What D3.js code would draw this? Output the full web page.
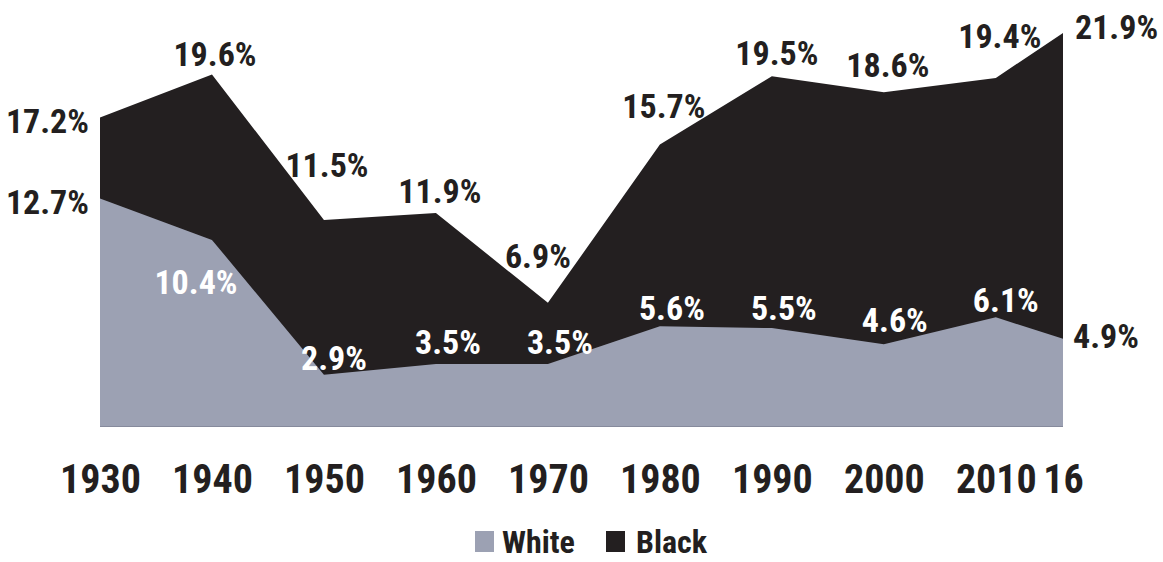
<!DOCTYPE html>
<html>
<head>
<meta charset="utf-8">
<script src="https://cdn.jsdelivr.net/npm/d3@7/dist/d3.min.js"></script>
<style>
  html, body { margin: 0; padding: 0; background: #fff; }
  svg { display: block; }
  text { font-family: "Liberation Sans Narrow", "Roboto Condensed", "DejaVu Sans Condensed", sans-serif; font-weight: bold; }
</style>
</head>
<body>
<svg id="chart" width="1163" height="562"></svg>
<script>
// Share of each group, by census year
const years = [1930, 1940, 1950, 1960, 1970, 1980, 1990, 2000, 2010, 2016];
const yearLabels = ["1930", "1940", "1950", "1960", "1970", "1980", "1990", "2000", "2010", "16"];
const whiteValues = [12.7, 10.4, 2.9, 3.5, 3.5, 5.6, 5.5, 4.6, 6.1, 4.9];
const blackValues = [17.2, 19.6, 11.5, 11.9, 6.9, 15.7, 19.5, 18.6, 19.4, 21.9];
const seriesNames = ["White", "Black"];

// Label placement relative to each point: [dx, dy, anchor]
const blackLabelOffsets = [
  [-11, 15, "end"], [3, -8, "middle"], [3, -43, "middle"], [4, -10, "middle"], [-10, -35, "middle"],
  [4, -27, "middle"], [5, -11, "middle"], [4, -15, "middle"], [4, -30, "middle"], [12, 6, "start"]
];
const whiteLabelOffsets = [
  [-11, 15, "end"], [-16, 54, "middle"], [10, -5, "middle"], [12, -10, "middle"], [12, -10, "middle"],
  [12, -6, "middle"], [12, -8, "middle"], [11, -12, "middle"], [10, -5, "middle"], [10, 9, "start"]
];
// White labels that sit inside the grey area use white text
const whiteLabelInside = [false, true, true, true, true, true, true, true, true, false];

const colors = { White: "#9ca1b3", Black: "#231f20" };
const textDark = "#231f20";

const svg = d3.select("#chart");

const x = d3.scaleLinear().domain([1930, 2016]).range([100, 1063]);
const y = d3.scaleLinear().domain([0, 21.9]).range([427, 33]);

const area = vals => d3.area()
  .x((d, i) => x(years[i]))
  .y0(y(0))
  .y1(d => y(d))
  .curve(d3.curveLinear)(vals);

// Black share drawn first, white share overlaid
svg.append("path").attr("d", area(blackValues)).attr("fill", colors.Black);
svg.append("path").attr("d", area(whiteValues)).attr("fill", colors.White);

// Baseline
svg.append("line")
  .attr("x1", x(1930)).attr("x2", x(2016))
  .attr("y1", y(0) - 0.5).attr("y2", y(0) - 0.5)
  .attr("stroke", "#868a9c").attr("stroke-width", 1);

// Value labels
function addLabels(vals, offsets, fills) {
  svg.append("g").selectAll("text")
    .data(vals)
    .join("text")
    .attr("x", (d, i) => x(years[i]) + offsets[i][0])
    .attr("y", (d, i) => y(d) + offsets[i][1])
    .attr("text-anchor", (d, i) => offsets[i][2])
    .attr("font-size", 34)
    .attr("fill", (d, i) => fills[i])
    .text(d => d.toFixed(1) + "%");
}
addLabels(blackValues, blackLabelOffsets, blackValues.map(() => textDark));
addLabels(whiteValues, whiteLabelOffsets, whiteLabelInside.map(v => v ? "#ffffff" : textDark));

// Year axis
const xAxis = d3.axisBottom(x)
  .tickValues(years)
  .tickFormat((d, i) => yearLabels[i])
  .tickSize(0)
  .tickPadding(0);
const axisG = svg.append("g")
  .attr("transform", `translate(0, ${y(0)})`)
  .call(xAxis);
axisG.select(".domain").remove();
axisG.selectAll("text")
  .attr("dy", null)
  .attr("y", 66)
  .attr("font-size", 40)
  .attr("fill", textDark)
  .style("font-family", null);

// Legend
const legend = svg.append("g");
const legendItems = [
  { name: seriesNames[0], sx: 475, tx: 502 },
  { name: seriesNames[1], sx: 606, tx: 636 }
];
legendItems.forEach(it => {
  legend.append("rect")
    .attr("x", it.sx).attr("y", 531)
    .attr("width", 19).attr("height", 21)
    .attr("fill", colors[it.name]);
  legend.append("text")
    .attr("x", it.tx).attr("y", 553)
    .attr("font-size", 32)
    .attr("fill", textDark)
    .text(it.name);
});
</script>
</body>
</html>
